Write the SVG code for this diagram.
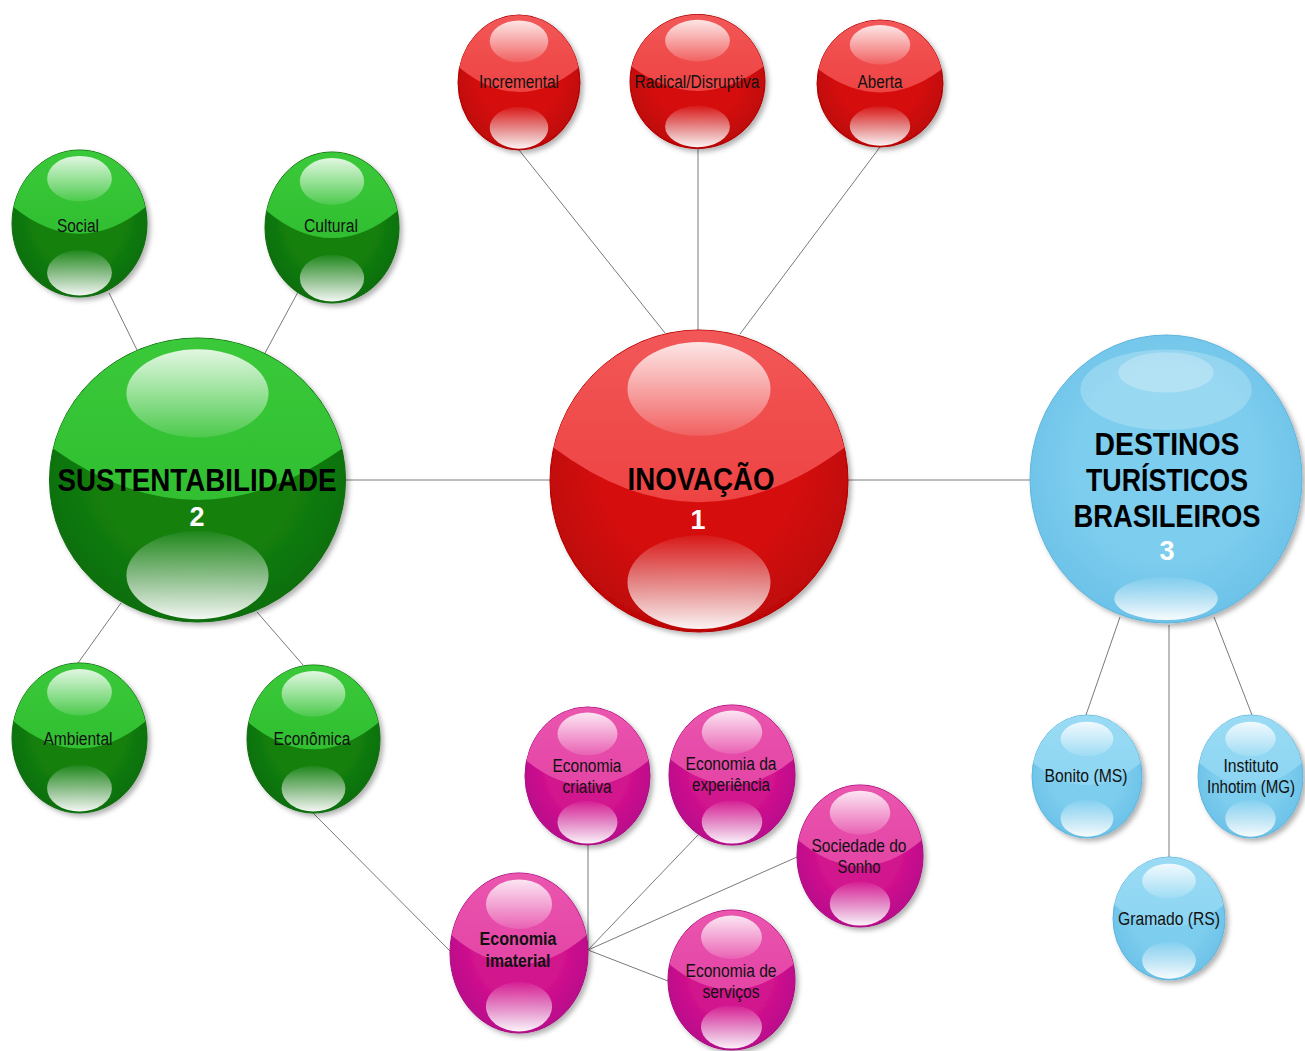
<svg xmlns="http://www.w3.org/2000/svg" xmlns:xlink="http://www.w3.org/1999/xlink" width="1305" height="1051" viewBox="0 0 1305 1051">
  <style>
    .lbl { font-family: "Liberation Sans", Arial, sans-serif; font-size: 18px; fill: #111; text-anchor: middle; }
    .lbl-b { font-family: "Liberation Sans", Arial, sans-serif; font-size: 18px; font-weight: bold; fill: #111; text-anchor: middle; }
    .title { font-family: "Liberation Sans", Arial, sans-serif; font-size: 31px; font-weight: bold; fill: #000; text-anchor: middle; }
    .num { font-family: "Liberation Sans", Arial, sans-serif; font-size: 27px; font-weight: bold; fill: #fff; text-anchor: middle; }
    .link { stroke: #7a7a7a; stroke-width: 1; fill: none; }
    .ball { filter: url(#shadow); }
    .hl-top { fill: url(#hl-top); }
    .hl-bot { fill: url(#hl-bot); }
    .rim { vector-effect: non-scaling-stroke; stroke-width: 1; }
  </style>
  <defs>
    <filter id="shadow" x="-10%" y="-10%" width="125%" height="125%">
      <feDropShadow dx="3" dy="3" stdDeviation="2.5" flood-color="#000" flood-opacity="0.3"/>
    </filter>
    <!-- glossy highlights shared by every ball -->
    <linearGradient id="hl-top" x1="0" y1="0" x2="0" y2="1">
      <stop offset="0" stop-color="#fff" stop-opacity="0.85"/>
      <stop offset="1" stop-color="#fff" stop-opacity="0.12"/>
    </linearGradient>
    <linearGradient id="hl-bot" x1="0" y1="0" x2="0" y2="1">
      <stop offset="0" stop-color="#fff" stop-opacity="0.05"/>
      <stop offset="1" stop-color="#fff" stop-opacity="0.95"/>
    </linearGradient>
    <!-- base colours -->
    <radialGradient id="red-base" cx="0.5" cy="0.45" r="0.55">
      <stop offset="0.6" stop-color="#d50d0d"/>
      <stop offset="1" stop-color="#bd0606"/>
    </radialGradient>
    <linearGradient id="red-band" x1="0" y1="0" x2="0" y2="1">
      <stop offset="0" stop-color="#f25757"/>
      <stop offset="1" stop-color="#ee4343"/>
    </linearGradient>
    <radialGradient id="green-base" cx="0.5" cy="0.45" r="0.55">
      <stop offset="0.6" stop-color="#13800f"/>
      <stop offset="1" stop-color="#0d6e0b"/>
    </radialGradient>
    <linearGradient id="green-band" x1="0" y1="0" x2="0" y2="1">
      <stop offset="0" stop-color="#3ac93a"/>
      <stop offset="1" stop-color="#30bf30"/>
    </linearGradient>
    <radialGradient id="pink-base" cx="0.5" cy="0.45" r="0.55">
      <stop offset="0.6" stop-color="#d2128d"/>
      <stop offset="1" stop-color="#b80c8c"/>
    </radialGradient>
    <linearGradient id="pink-band" x1="0" y1="0" x2="0" y2="1">
      <stop offset="0" stop-color="#ea55ae"/>
      <stop offset="1" stop-color="#e445a6"/>
    </linearGradient>
    <radialGradient id="blue-base" cx="0.5" cy="0.45" r="0.55">
      <stop offset="0.6" stop-color="#7dcdee"/>
      <stop offset="1" stop-color="#6cc2e8"/>
    </radialGradient>
    <linearGradient id="blue-band" x1="0" y1="0" x2="0" y2="1">
      <stop offset="0" stop-color="#9adbf4"/>
      <stop offset="1" stop-color="#8cd5f2"/>
    </linearGradient>

    <!-- glossy balls drawn in a -100..100 box and stretched to each node's ellipse -->
    <symbol id="ball-red" viewBox="-100 -100 200 200" preserveAspectRatio="none" overflow="visible">
      <circle r="100" fill="url(#red-base)" stroke="#b00000" class="rim"/>
      <path d="M-97.5,-22 A100,100 0 0 1 97.5,-22 Q0,50 -97.5,-22Z" fill="url(#red-band)"/>
      <ellipse class="hl-top" cx="0" cy="-61" rx="48" ry="31"/>
      <ellipse class="hl-bot" cx="0" cy="67" rx="48" ry="31"/>
    </symbol>
    <symbol id="ball-green" viewBox="-100 -100 200 200" preserveAspectRatio="none" overflow="visible">
      <circle r="100" fill="url(#green-base)" stroke="#0a6a0a" class="rim"/>
      <path d="M-97.5,-22 A100,100 0 0 1 97.5,-22 Q0,50 -97.5,-22Z" fill="url(#green-band)"/>
      <ellipse class="hl-top" cx="0" cy="-61" rx="48" ry="31"/>
      <ellipse class="hl-bot" cx="0" cy="67" rx="48" ry="31"/>
    </symbol>
    <symbol id="ball-pink" viewBox="-100 -100 200 200" preserveAspectRatio="none" overflow="visible">
      <circle r="100" fill="url(#pink-base)" stroke="#a8077c" class="rim"/>
      <path d="M-97.5,-22 A100,100 0 0 1 97.5,-22 Q0,50 -97.5,-22Z" fill="url(#pink-band)"/>
      <ellipse class="hl-top" cx="0" cy="-61" rx="48" ry="31"/>
      <ellipse class="hl-bot" cx="0" cy="67" rx="48" ry="31"/>
    </symbol>
    <symbol id="ball-blue" viewBox="-100 -100 200 200" preserveAspectRatio="none" overflow="visible">
      <circle r="100" fill="url(#blue-base)" stroke="#5eb4dc" class="rim"/>
      <path d="M-97.5,-22 A100,100 0 0 1 97.5,-22 Q0,50 -97.5,-22Z" fill="url(#blue-band)"/>
      <ellipse class="hl-top" cx="0" cy="-61" rx="48" ry="28"/>
      <ellipse class="hl-bot" cx="0" cy="68" rx="48" ry="30"/>
    </symbol>
    <!-- the large blue ball has a wider, flatter shine -->
    <symbol id="ball-blue-big" viewBox="-100 -100 200 200" preserveAspectRatio="none" overflow="visible">
      <circle r="100" fill="url(#blue-base)" stroke="#5eb4dc" class="rim"/>
      <ellipse cx="0" cy="-62" rx="63" ry="28" fill="#fff" fill-opacity="0.22"/>
      <ellipse cx="0" cy="-74" rx="35" ry="14" fill="#fff" fill-opacity="0.25"/>
      <ellipse class="hl-bot" cx="0" cy="83" rx="38" ry="15"/>
    </symbol>
  </defs>

  <rect width="1305" height="1051" fill="#fff"/>

  <g id="connectors">
    <line class="link" x1="519" y1="150" x2="665" y2="333"/>
    <line class="link" x1="698" y1="148" x2="698" y2="330"/>
    <line class="link" x1="880" y1="147" x2="740" y2="334"/>
    <line class="link" x1="345" y1="480" x2="550" y2="480"/>
    <line class="link" x1="848" y1="480" x2="1030" y2="480"/>
    <line class="link" x1="109" y1="293" x2="137" y2="350"/>
    <line class="link" x1="298" y1="292" x2="265" y2="353"/>
    <line class="link" x1="121" y1="603" x2="78" y2="663"/>
    <line class="link" x1="257" y1="612" x2="303" y2="665"/>
    <line class="link" x1="313" y1="813" x2="451" y2="952"/>
    <line class="link" x1="588" y1="845" x2="588" y2="950"/>
    <line class="link" x1="698" y1="835" x2="588" y2="950"/>
    <line class="link" x1="797" y1="857" x2="588" y2="950"/>
    <line class="link" x1="668" y1="981" x2="588" y2="950"/>
    <line class="link" x1="1120" y1="617" x2="1086" y2="715"/>
    <line class="link" x1="1169" y1="625" x2="1169" y2="857"/>
    <line class="link" x1="1214" y1="617" x2="1252" y2="715"/>
  </g>

  <!-- 1: innovation branch -->
  <g id="node-inovacao">
    <use class="ball" href="#ball-red" x="550" y="330" width="298" height="302"/>
    <text class="title" x="701" y="490" textLength="147" lengthAdjust="spacingAndGlyphs">INOVAÇÃO</text>
    <text class="num" x="698" y="529">1</text>
  </g>
  <g id="node-incremental">
    <use class="ball" href="#ball-red" x="458" y="15" width="122" height="135"/>
    <text class="lbl" x="519" y="88" textLength="80" lengthAdjust="spacingAndGlyphs">Incremental</text>
  </g>
  <g id="node-radical">
    <use class="ball" href="#ball-red" x="630" y="14.5" width="135" height="134"/>
    <text class="lbl" x="697" y="88" textLength="125" lengthAdjust="spacingAndGlyphs">Radical/Disruptiva</text>
  </g>
  <g id="node-aberta">
    <use class="ball" href="#ball-red" x="817" y="20" width="126" height="127"/>
    <text class="lbl" x="880" y="88" textLength="45" lengthAdjust="spacingAndGlyphs">Aberta</text>
  </g>

  <!-- 2: sustainability branch -->
  <g id="node-sustentabilidade">
    <use class="ball" href="#ball-green" x="49.5" y="338" width="296" height="284"/>
    <text class="title" x="197" y="491" textLength="279" lengthAdjust="spacingAndGlyphs">SUSTENTABILIDADE</text>
    <text class="num" x="197" y="526">2</text>
  </g>
  <g id="node-social">
    <use class="ball" href="#ball-green" x="12" y="150" width="135" height="147"/>
    <text class="lbl" x="78" y="232" textLength="42" lengthAdjust="spacingAndGlyphs">Social</text>
  </g>
  <g id="node-cultural">
    <use class="ball" href="#ball-green" x="265" y="152" width="134" height="151"/>
    <text class="lbl" x="331" y="232" textLength="54" lengthAdjust="spacingAndGlyphs">Cultural</text>
  </g>
  <g id="node-ambiental">
    <use class="ball" href="#ball-green" x="12" y="663" width="135" height="150"/>
    <text class="lbl" x="78" y="745" textLength="69" lengthAdjust="spacingAndGlyphs">Ambiental</text>
  </g>
  <g id="node-economica">
    <use class="ball" href="#ball-green" x="247" y="665" width="133" height="148"/>
    <text class="lbl" x="312" y="745" textLength="77" lengthAdjust="spacingAndGlyphs">Econômica</text>
  </g>

  <!-- intangible economy cluster -->
  <g id="node-economia-imaterial">
    <use class="ball" href="#ball-pink" x="450" y="873" width="138" height="160"/>
    <text class="lbl-b" x="518" y="945" textLength="77" lengthAdjust="spacingAndGlyphs">Economia</text>
    <text class="lbl-b" x="518" y="967" textLength="65" lengthAdjust="spacingAndGlyphs">imaterial</text>
  </g>
  <g id="node-economia-criativa">
    <use class="ball" href="#ball-pink" x="525" y="707" width="125" height="138"/>
    <text class="lbl" x="587" y="772" textLength="69" lengthAdjust="spacingAndGlyphs">Economia</text>
    <text class="lbl" x="587" y="793" textLength="49" lengthAdjust="spacingAndGlyphs">criativa</text>
  </g>
  <g id="node-economia-experiencia">
    <use class="ball" href="#ball-pink" x="669" y="705" width="126" height="140"/>
    <text class="lbl" x="731" y="770" textLength="91" lengthAdjust="spacingAndGlyphs">Economia da</text>
    <text class="lbl" x="731" y="791" textLength="78" lengthAdjust="spacingAndGlyphs">experiência</text>
  </g>
  <g id="node-sociedade-sonho">
    <use class="ball" href="#ball-pink" x="797" y="785" width="126" height="142"/>
    <text class="lbl" x="859" y="852" textLength="95" lengthAdjust="spacingAndGlyphs">Sociedade do</text>
    <text class="lbl" x="859" y="873" textLength="43" lengthAdjust="spacingAndGlyphs">Sonho</text>
  </g>
  <g id="node-economia-servicos">
    <use class="ball" href="#ball-pink" x="668" y="910" width="127" height="140"/>
    <text class="lbl" x="731" y="977" textLength="91" lengthAdjust="spacingAndGlyphs">Economia de</text>
    <text class="lbl" x="731" y="998" textLength="57" lengthAdjust="spacingAndGlyphs">serviços</text>
  </g>

  <!-- 3: destinations branch -->
  <g id="node-destinos">
    <use class="ball" href="#ball-blue-big" x="1030" y="335" width="272" height="288"/>
    <text class="title" x="1167" y="455" textLength="145" lengthAdjust="spacingAndGlyphs">DESTINOS</text>
    <text class="title" x="1167" y="491" textLength="162" lengthAdjust="spacingAndGlyphs">TURÍSTICOS</text>
    <text class="title" x="1167" y="527" textLength="187" lengthAdjust="spacingAndGlyphs">BRASILEIROS</text>
    <text class="num" x="1167" y="560">3</text>
  </g>
  <g id="node-bonito">
    <use class="ball" href="#ball-blue" x="1032" y="715" width="110" height="123"/>
    <text class="lbl" x="1086" y="782" textLength="83" lengthAdjust="spacingAndGlyphs">Bonito (MS)</text>
  </g>
  <g id="node-inhotim">
    <use class="ball" href="#ball-blue" x="1198" y="715" width="105" height="123"/>
    <text class="lbl" x="1251" y="772" textLength="55" lengthAdjust="spacingAndGlyphs">Instituto</text>
    <text class="lbl" x="1251" y="793" textLength="88" lengthAdjust="spacingAndGlyphs">Inhotim (MG)</text>
  </g>
  <g id="node-gramado">
    <use class="ball" href="#ball-blue" x="1113" y="857" width="112" height="123"/>
    <text class="lbl" x="1169" y="925" textLength="102" lengthAdjust="spacingAndGlyphs">Gramado (RS)</text>
  </g>
</svg>
